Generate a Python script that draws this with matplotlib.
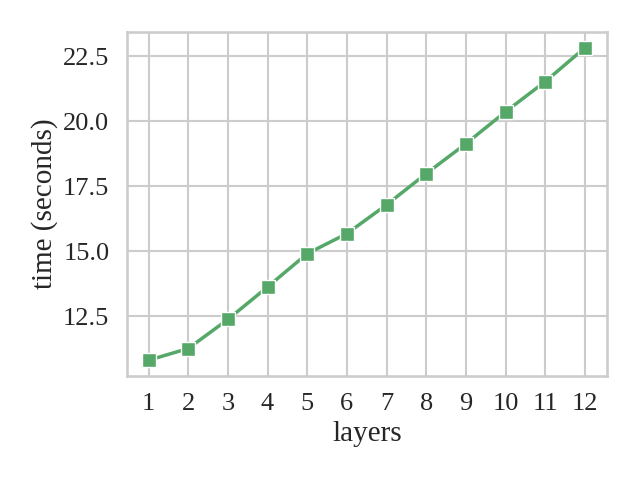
import matplotlib
matplotlib.use('Agg')
import matplotlib.pyplot as plt
from matplotlib.ticker import MultipleLocator
import seaborn as sns

layers = [1, 2, 3, 4, 5, 6, 7, 8, 9, 10, 11, 12]
times = [10.81, 11.26, 12.38, 13.63, 14.91, 15.68, 16.79, 17.99, 19.14, 20.37, 21.53, 22.83]

sns.set_theme(context='talk', style='whitegrid')
plt.rcParams['font.family'] = ['Liberation Serif', 'DejaVu Serif']
plt.rcParams['xtick.labelsize'] = 19
plt.rcParams['ytick.labelsize'] = 19
plt.rcParams['axes.labelsize'] = 21

fig, ax = plt.subplots(figsize=(6.4, 4.8), dpi=100)
ax.plot(layers, times, color=sns.color_palette('deep')[2], marker='s',
        linewidth=2.5, markersize=9.5,
        markeredgecolor='white', markeredgewidth=1)
ax.set_xticks(layers)
ax.yaxis.set_major_locator(MultipleLocator(2.5))
ax.set_xlabel('layers')
ax.set_ylabel('time (seconds)')
fig.subplots_adjust(left=0.198, right=0.948, top=0.933, bottom=0.217)
fig.savefig('out.png', dpi=100, facecolor='white')
